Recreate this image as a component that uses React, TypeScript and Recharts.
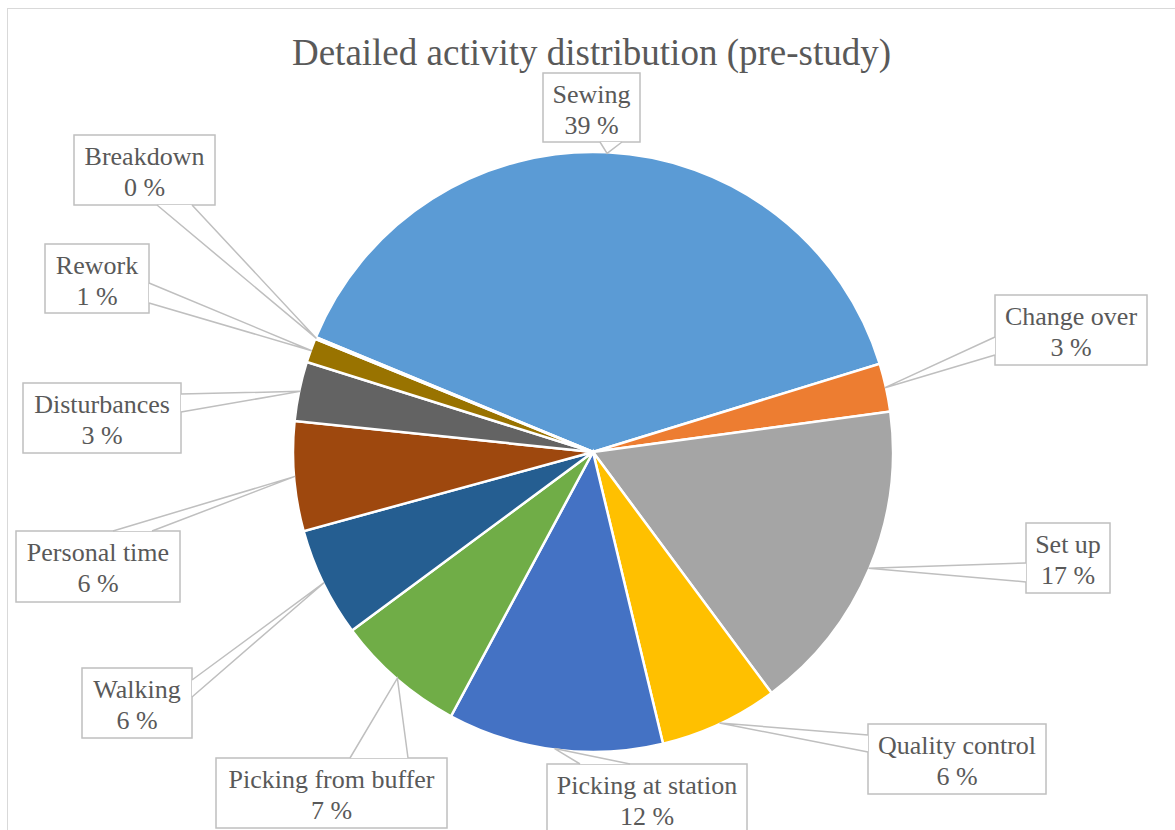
import { Cell, Pie, PieChart } from "recharts";

const categories = [
  "Sewing",
  "Change over",
  "Set up",
  "Quality control",
  "Picking at station",
  "Picking from buffer",
  "Walking",
  "Personal time",
  "Disturbances",
  "Rework",
  "Breakdown",
];

const shares = [39.0, 2.6, 17.0, 6.4, 11.6, 7.0, 5.9, 5.9, 3.2, 1.3, 0.1];

const colors = [
  "#5B9BD5",
  "#ED7D31",
  "#A5A5A5",
  "#FFC000",
  "#4472C4",
  "#70AD47",
  "#255E91",
  "#9E480E",
  "#636363",
  "#997300",
  "#264478",
];

const title = "Detailed activity distribution (pre-study)";

const data = categories.map((name, i) => ({ name, value: shares[i] }));

// callout boxes: x, y, w, h, side the pointer leaves from, two anchors along that side
type Side = "top" | "bottom" | "left" | "right";
const calloutLayout: [number, number, number, number, Side, number, number][] = [
  [543, 73, 97, 69, "bottom", 600, 622],
  [995, 295, 152, 70, "left", 337, 355],
  [1026, 523, 84, 70, "left", 563, 582],
  [868, 724, 178, 70, "left", 735, 752],
  [547, 764, 200, 70, "top", 580, 630],
  [216, 758, 231, 70, "top", 350, 408],
  [82, 668, 110, 70, "right", 680, 697],
  [16, 531, 164, 71, "top", 113, 152],
  [23, 383, 158, 70, "right", 394, 412],
  [45, 244, 104, 69, "right", 283, 303],
  [74, 135, 141, 70, "bottom", 157, 192],
];

const FONT = '"Liberation Serif", "Times New Roman", serif';
const TEXT = "#595959";
const LINE = "#BFBFBF";
const RAD = Math.PI / 180;

function Callout(props: any) {
  const { cx, cy, midAngle, outerRadius, percent, index, name } = props;
  const [x, y, w, h, side, a, b] = calloutLayout[index];
  const tx = cx + Math.cos(-midAngle * RAD) * (outerRadius - 1);
  const ty = cy + Math.sin(-midAngle * RAD) * (outerRadius - 1);
  let p1: [number, number];
  let p2: [number, number];
  if (side === "top") {
    p1 = [a, y];
    p2 = [b, y];
  } else if (side === "bottom") {
    p1 = [a, y + h];
    p2 = [b, y + h];
  } else if (side === "left") {
    p1 = [x, a];
    p2 = [x, b];
  } else {
    p1 = [x + w, a];
    p2 = [x + w, b];
  }
  return (
    <g>
      <rect x={x} y={y} width={w} height={h} fill="#fff" stroke={LINE} strokeWidth={1.5} />
      <polyline
        points={`${p1[0]},${p1[1]} ${tx},${ty} ${p2[0]},${p2[1]}`}
        fill="#fff"
        stroke={LINE}
        strokeWidth={1.5}
      />
      <text
        x={x + w / 2}
        y={y + 29.5}
        textAnchor="middle"
        fontFamily={FONT}
        fontSize={26}
        fill={TEXT}
      >
        {name}
      </text>
      <text
        x={x + w / 2}
        y={y + 60.5}
        textAnchor="middle"
        fontFamily={FONT}
        fontSize={26}
        fill={TEXT}
      >
        {`${Math.round(percent * 100)} %`}
      </text>
    </g>
  );
}

export default function App() {
  return (
    <div style={{ position: "absolute", left: 0, top: 0, width: 1175, height: 830, overflow: "hidden", background: "#fff" }}>
      <div
        style={{
          position: "absolute",
          left: 7,
          top: 7.5,
          width: 1300,
          height: 900,
          borderLeft: "1.5px solid #D9D9D9",
          borderTop: "1.5px solid #D9D9D9",
        }}
      />
      <div
        style={{
          position: "absolute",
          left: 0,
          top: 34,
          width: 1183,
          textAlign: "center",
          fontFamily: FONT,
          fontSize: 37,
          lineHeight: "37px",
          color: TEXT,
          whiteSpace: "nowrap",
        }}
      >
        {title}
      </div>
      <div style={{ position: "absolute", left: 0, top: 0 }}>
        <PieChart width={1175} height={830} margin={{ top: 0, right: 0, bottom: 0, left: 0 }}>
          <Pie
            data={data}
            dataKey="value"
            nameKey="name"
            cx={593}
            cy={452}
            outerRadius={300}
            startAngle={157.5}
            endAngle={-202.5}
            stroke="#fff"
            strokeWidth={2.5}
            label={Callout}
            labelLine={false}
            isAnimationActive={false}
          >
            {data.map((d, i) => (
              <Cell key={d.name} fill={colors[i]} />
            ))}
          </Pie>
        </PieChart>
      </div>
    </div>
  );
}
